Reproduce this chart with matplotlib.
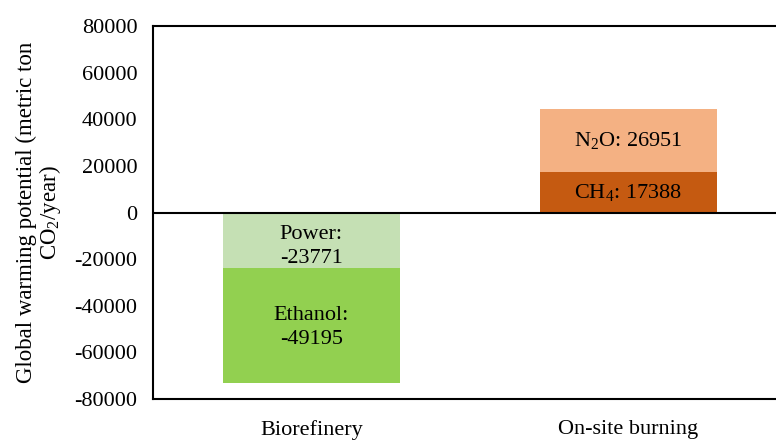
import numpy as np
import matplotlib.pyplot as plt

plt.rcParams['font.family'] = ['Liberation Serif', 'DejaVu Serif']
plt.rcParams['mathtext.fontset'] = 'custom'
plt.rcParams['mathtext.rm'] = 'Liberation Serif'
plt.rcParams['mathtext.it'] = 'Liberation Serif:italic'
plt.rcParams['axes.unicode_minus'] = False

# data
categories = ['Biorefinery', 'On-site burning']
ethanol = [-49195, 0]
power = [-23771, 0]
ch4 = [0, 17388]
n2o = [0, 26951]

fig = plt.figure(figsize=(7.76, 4.40), dpi=100)
ax = fig.add_axes([0.197, 0.093, 0.817, 0.848])

x = np.arange(len(categories))
w = 0.56

# biorefinery: power on top (nearest zero), ethanol below
ax.bar(x[0], power[0], width=w, color='#C5E0B4')
ax.bar(x[0], ethanol[0], width=w, bottom=power[0], color='#92D050')
# on-site burning: CH4 at bottom, N2O stacked above
ax.bar(x[1], ch4[1], width=w, color='#C55A11')
ax.bar(x[1], n2o[1], width=w, bottom=ch4[1], color='#F4B183')

fs = 16
ax.text(x[0], power[0] / 2 - 2500, 'Power:\n%d' % power[0], ha='center', va='center',
        fontsize=fs, linespacing=1.35)
ax.text(x[0], power[0] + ethanol[0] / 2 - 1000, 'Ethanol:\n%d' % ethanol[0], ha='center',
        va='center', fontsize=fs, linespacing=1.35)
ax.text(x[1], ch4[1] / 2, 'CH$_4$: %d' % ch4[1], ha='center', va='center', fontsize=fs)
ax.text(x[1], ch4[1] + n2o[1] / 2, 'N$_2$O: %d' % n2o[1], ha='center', va='center',
        fontsize=fs)

ax.axhline(0, color='black', lw=1.5)

ax.set_xlim(-0.5, 1.5)
ax.set_ylim(-80000, 80000)
ax.set_yticks(np.arange(-80000, 80001, 20000))
ax.set_xticks(x)
ax.set_xticklabels(categories)
ax.tick_params(axis='y', length=0, pad=11, labelsize=fs)
ax.tick_params(axis='x', length=0, pad=15, labelsize=fs)
ax.set_ylabel('Global warming potential (metric ton\nCO$_2$/year)', fontsize=16.5,
              labelpad=8, linespacing=1.05)

for s in ax.spines.values():
    s.set_linewidth(1.5)

fig.savefig('out.png', dpi=100)
